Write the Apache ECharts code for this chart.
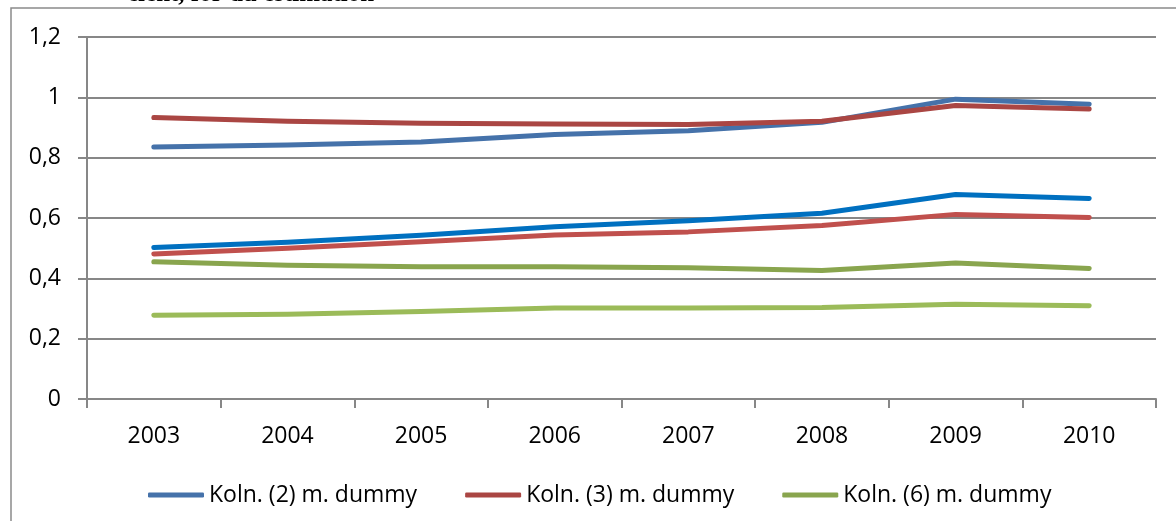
<!DOCTYPE html>
<html>
<head>
<meta charset="utf-8">
<script src="https://cdn.jsdelivr.net/npm/echarts@6/dist/echarts.min.js"></script>
<style>
  html, body { margin: 0; padding: 0; background: #ffffff; }
  #chart { width: 1176px; height: 521px; }
</style>
</head>
<body>
<div id="chart"></div>
<script>
// Years on the category axis
const years = ['2003', '2004', '2005', '2006', '2007', '2008', '2009', '2010'];

// Legend entries (upper line of each pair)
const seriesNames = ['Koln. (2) m. dummy', 'Koln. (3) m. dummy', 'Koln. (6) m. dummy'];

// Upper lines ("m. dummy")
const koln2Dummy = [0.835, 0.842, 0.852, 0.877, 0.889, 0.917, 0.994, 0.977];
const koln3Dummy = [0.933, 0.921, 0.914, 0.912, 0.910, 0.921, 0.973, 0.961];
const koln6Dummy = [0.455, 0.443, 0.438, 0.438, 0.435, 0.426, 0.451, 0.433];

// Lower lines of each pair
const koln2 = [0.502, 0.520, 0.543, 0.571, 0.591, 0.616, 0.678, 0.665];
const koln3 = [0.481, 0.500, 0.521, 0.544, 0.554, 0.575, 0.612, 0.602];
const koln6 = [0.278, 0.281, 0.290, 0.302, 0.302, 0.303, 0.314, 0.309];

const FONT = '"Open Sans", "Liberation Sans", sans-serif';
const GRID_GRAY = '#878787';

function lineSeries(name, data, color) {
  return {
    name: name,
    type: 'line',
    data: data,
    showSymbol: false,
    symbol: 'none',
    smooth: false,
    lineStyle: { color: color, width: 5, cap: 'round', join: 'round' },
    itemStyle: { color: color },
    emphasis: { disabled: true },
    animation: false
  };
}

const chart = echarts.init(document.getElementById('chart'), null, { renderer: 'canvas' });

chart.setOption({
  backgroundColor: '#ffffff',
  animation: false,
  grid: { left: 87, right: 20, top: 37, bottom: 122, containLabel: false },
  graphic: [
    {
      type: 'polyline',
      shape: { points: [[11, 530], [11, 8], [1180, 8]] },
      style: { stroke: '#8a8a8a', lineWidth: 1.5, fill: null },
      silent: true
    },
    {
      type: 'text',
      left: 127,
      top: -18,
      style: {
        text: 'cient, for du estimation',
        font: 'bold 25px "Liberation Serif", "DejaVu Serif", serif',
        fill: '#000000'
      },
      silent: true
    }
  ],
  legend: {
    data: seriesNames,
    left: 143,
    top: 477,
    icon: 'roundRect',
    itemWidth: 56,
    itemHeight: 5,
    itemGap: 48,
    textStyle: { fontFamily: FONT, fontSize: 23, color: '#000000', lineHeight: 26 },
    selectedMode: false
  },
  xAxis: {
    type: 'category',
    data: years,
    boundaryGap: true,
    axisLine: { show: true, lineStyle: { color: GRID_GRAY, width: 2 } },
    axisTick: { show: true, interval: 0, length: 9, alignWithLabel: false, lineStyle: { color: GRID_GRAY, width: 2 } },
    axisLabel: { fontFamily: FONT, fontSize: 23, color: '#000000', margin: 26, interval: 0 },
    splitLine: { show: false }
  },
  yAxis: {
    type: 'value',
    min: 0,
    max: 1.2,
    interval: 0.2,
    axisLine: { show: true, lineStyle: { color: GRID_GRAY, width: 2 } },
    axisTick: { show: true, length: 9, lineStyle: { color: GRID_GRAY, width: 2 } },
    axisLabel: {
      fontFamily: FONT, fontSize: 23, color: '#000000', margin: 26,
      formatter: function (v) { return String(Math.round(v * 10) / 10).replace('.', ','); }
    },
    splitLine: { show: true, lineStyle: { color: GRID_GRAY, width: 2 } }
  },
  series: [
    lineSeries('Koln. (2)', koln2, '#0070C0'),
    lineSeries('Koln. (3)', koln3, '#C0504D'),
    lineSeries('Koln. (6)', koln6, '#9BBB59'),
    lineSeries(seriesNames[0], koln2Dummy, '#4572AA'),
    lineSeries(seriesNames[1], koln3Dummy, '#AA4643'),
    lineSeries(seriesNames[2], koln6Dummy, '#89A54E')
  ]
});
</script>
</body>
</html>
